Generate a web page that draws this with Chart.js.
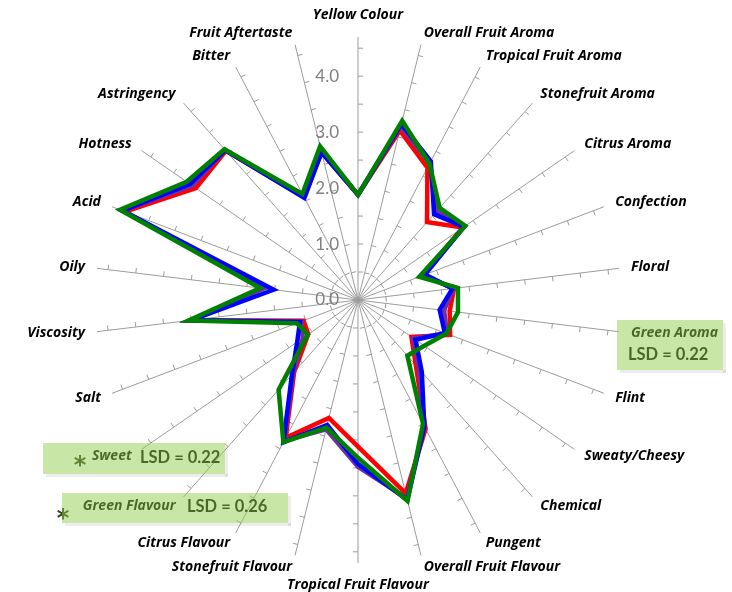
<!DOCTYPE html>
<html>
<head>
<meta charset="utf-8">
<title>Sensory profile</title>
<script src="https://cdn.jsdelivr.net/npm/chart.js@4.4.1/dist/chart.umd.min.js"></script>
<style>
	html, body { margin: 0; padding: 0; background: #fff; }
	canvas { display: block; }
</style>
</head>
<body>
<canvas id="chart-profile" width="732" height="592"></canvas>
<script>
"use strict";


const categories = [
	"Yellow Colour", "Overall Fruit Aroma", "Tropical Fruit Aroma", "Stonefruit Aroma",
	"Citrus Aroma", "Confection", "Floral", "Green Aroma", "Flint", "Sweaty/Cheesy",
	"Chemical", "Pungent", "Overall Fruit Flavour", "Tropical Fruit Flavour",
	"Stonefruit Flavour", "Citrus Flavour", "Green Flavour", "Sweet", "Salt",
	"Viscosity", "Oily", "Acid", "Hotness", "Astringency", "Bitter", "Fruit Aftertaste",
];

const redValues    = [1.88, 3.12, 2.67, 1.86, 2.28, 1.24, 1.73, 1.65, 1.76, 1.16, 1.56, 2.60, 3.56, 2.62, 2.17, 2.78, 1.72, 1.08, 1.04, 3.00, 1.72, 4.45, 3.52, 3.56, 2.08, 2.72];
const purpleValues = [1.88, 3.20, 2.76, 2.12, 2.30, 1.24, 1.72, 1.55, 1.70, 1.20, 1.65, 2.55, 3.65, 2.98, 2.38, 2.84, 1.75, 1.20, 1.08, 3.02, 1.70, 4.50, 3.60, 3.58, 2.10, 2.72];
const blueValues   = [1.88, 3.24, 2.80, 2.05, 2.30, 1.28, 1.70, 1.47, 1.66, 1.25, 1.72, 2.55, 3.68, 2.93, 2.30, 2.87, 1.78, 1.32, 1.11, 3.00, 1.52, 4.50, 3.65, 3.58, 2.06, 2.72];
const greenValues  = [1.88, 3.30, 2.75, 2.20, 2.33, 1.17, 1.80, 1.80, 1.69, 1.44, 1.33, 2.50, 3.70, 2.82, 2.35, 2.87, 2.14, 1.09, 1.17, 3.05, 1.76, 4.55, 3.72, 3.60, 2.14, 2.83];

const valueTicks = [0, 1, 2, 3, 4];
const minorTicks = [0.5, 1, 1.5, 2, 2.5, 3, 3.5, 4, 4.5];
const axisMax = 4.7;

const lsdNotes = [
	{ text: "LSD = 0.22", star: false },
	{ text: "LSD = 0.22", star: true },
	{ text: "LSD = 0.26", star: true },
];


const labelColor = "#000";
const spokeColor = "#9c9c9c";
const tickLabelColor = "#808080";
const noteFill = "rgba(146, 208, 80, 0.5)";
const labelFont = "italic bold 14px 'Open Sans', Lato, sans-serif";
const tickFont = "17px Lato, 'Open Sans', sans-serif";
const noteFont = "bold 16.5px Lato, 'Open Sans', sans-serif";
const labelGap = 12;


const spokeTicks = {
	id: "spokeTicks",
	beforeDatasetsDraw(chart) {
		const scale = chart.scales.r;
		const ctx = chart.ctx;
		ctx.save();
		ctx.strokeStyle = spokeColor;
		ctx.lineWidth = 1;
		for (let i = 0; i < categories.length; i++) {
			const angle = scale.getIndexAngle(i);
			// ticks sit on the clockwise side of each spoke
			const nx = Math.cos(angle);
			const ny = Math.sin(angle);
			minorTicks.forEach(v => {
				const p = scale.getPointPosition(i, scale.getDistanceFromCenterForValue(v));
				ctx.beginPath();
				ctx.moveTo(p.x, p.y);
				ctx.lineTo(p.x + nx * 5, p.y + ny * 5);
				ctx.stroke();
			});
		}

		ctx.font = tickFont;
		ctx.fillStyle = tickLabelColor;
		ctx.textAlign = "right";
		ctx.textBaseline = "middle";
		valueTicks.forEach(v => {
			const p = scale.getPointPosition(0, scale.getDistanceFromCenterForValue(v));
			ctx.fillText(v.toFixed(1), p.x - 19, p.y);
		});
		ctx.restore();
	},
};


const axisLabels = {
	id: "axisLabels",
	afterDraw(chart) {
		const scale = chart.scales.r;
		const ctx = chart.ctx;
		ctx.save();
		ctx.font = labelFont;
		ctx.fillStyle = labelColor;
		ctx.textBaseline = "middle";
		categories.forEach((name, i) => {
			const side = Math.sin(scale.getIndexAngle(i));
			let gap = labelGap;
			if (Math.abs(side) < 0.05) {
				ctx.textAlign = "center";
				gap += 10;
			} else {
				ctx.textAlign = side > 0 ? "left" : "right";
			}
			const p = scale.getPointPosition(i, scale.drawingArea + gap);
			ctx.fillText(name, p.x, p.y);
		});

		// LSD boxes: text first, then translucent green panel on top
		const boxes = [
			{ x: 617, y: 320, w: 106, h: 50, tx: 628, ty: 355, sx: 0, sy: 0 },
			{ x: 43, y: 443, w: 182, h: 31, tx: 140, ty: 458, sx: 80, sy: 467 },
			{ x: 62, y: 493, w: 226, h: 30, tx: 187, ty: 507, sx: 63, sy: 520 },
		];
		ctx.textAlign = "left";
		lsdNotes.forEach((note, i) => {
			const b = boxes[i];
			ctx.fillStyle = "#000";
			ctx.font = noteFont;
			ctx.fillText(note.text, b.tx, b.ty);
			if (note.star) {
				ctx.font = "bold 24px 'DejaVu Sans', sans-serif";
				ctx.fillStyle = "#2a3d14";
				ctx.textAlign = "center";
				ctx.fillText("*", b.sx, b.sy);
				ctx.textAlign = "left";
			}
		});
		boxes.forEach(b => {
			ctx.fillStyle = "rgba(0, 0, 0, 0.07)";
			ctx.fillRect(b.x + 3, b.y + b.h, b.w, 3);
			ctx.fillRect(b.x + b.w, b.y + 3, 3, b.h);
			ctx.fillStyle = noteFill;
			ctx.fillRect(b.x, b.y, b.w, b.h);
		});
		ctx.restore();
	},
};


function series(data, color, order) {
	return {
		data: data,
		borderColor: color,
		backgroundColor: color,
		borderWidth: 4.5,
		borderJoinStyle: "miter",
		pointRadius: 0,
		fill: false,
		order: order,
	};
}


function setup_chart() {
	const ctx = document.getElementById("chart-profile").getContext("2d");
	const config = {
		type: "radar",
		data: {
			labels: categories,
			datasets: [
				series(redValues, "#ff0000", 4),
				series(purpleValues, "#7030a0", 3),
				series(blueValues, "#0000ff", 2),
				series(greenValues, "#008000", 1),
			],
		},
		options: {
			responsive: false,
			animation: false,
			events: [],
			layout: {
				padding: { left: 95, right: 111, top: 37, bottom: 29 },
			},
			plugins: {
				legend: { display: false },
				tooltip: { enabled: false },
			},
			elements: {
				line: { tension: 0 },
			},
			scales: {
				r: {
					min: 0,
					max: axisMax,
					grid: { display: false },
					angleLines: { color: spokeColor, lineWidth: 1 },
					ticks: { display: false, stepSize: 0.5 },
					pointLabels: { display: false },
				},
			},
		},
		plugins: [spokeTicks, axisLabels],
	};
	new Chart(ctx, config);
}


setup_chart();
</script>
</body>
</html>
